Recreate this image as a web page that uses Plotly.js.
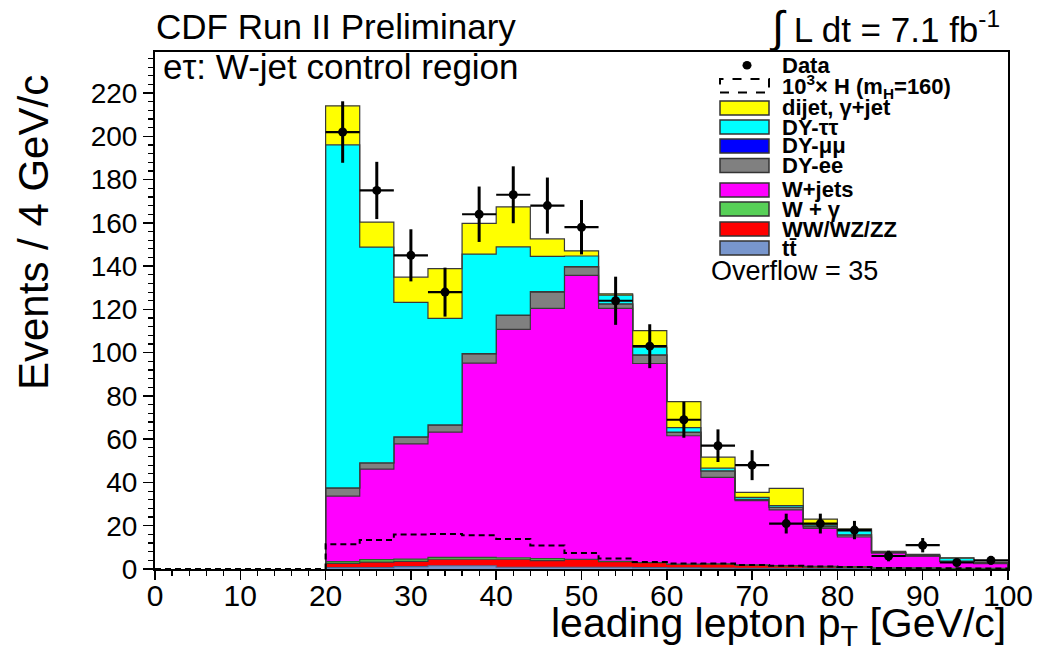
<!DOCTYPE html>
<html>
<head>
<meta charset="utf-8">
<script src="https://cdn.plot.ly/plotly-3.0.1.min.js"></script>
<style>
  html, body { margin: 0; padding: 0; background: #fff; }
  #plot { width: 1043px; height: 651px; }
</style>
</head>
<body>
<div id="plot"></div>
<script>
// Leading lepton pT, e-tau W-jet control region, 4 GeV bins (20-100 GeV/c)
const binLowEdges = [20, 24, 28, 32, 36, 40, 44, 48, 52, 56, 60, 64, 68, 72, 76, 80, 84, 88, 92, 96];
const binWidth = 4;

// Background expectations per bin (events / 4 GeV/c), stacked bottom to top
const ttbar    = [0.6, 0.6, 1.1, 1.5, 1.5, 0.8, 0.8, 0.8, 0.8, 0.6, 0.5, 0.4, 0.3, 0.3, 0.3, 0.2, 0.1, 0.1, 0.1, 0.1];
const diboson  = [2.0, 2.6, 2.4, 3.0, 3.0, 3.7, 3.1, 3.6, 2.6, 2.3, 1.7, 1.9, 1.5, 1.2, 0.8, 0.8, 0.3, 0.3, 0.1, 0.1];
const wGamma   = [0.8, 1.1, 1.1, 0.9, 0.9, 0.7, 0.9, 0.1, 0.1, 0.1, 0.1, 0.1, 0.1, 0.1, 0.1, 0.1, 0.1, 0.1, 0.1, 0.1];
const wJets    = [30.3, 41.9, 53.2, 57.9, 89.8, 105.6, 115.7, 131.2, 117.0, 92.0, 59.3, 40.0, 29.7, 25.7, 17.6, 13.7, 7.0, 5.5, 3.2, 2.2];
const dyEE     = [3.7, 2.8, 3.2, 3.2, 4.2, 6.4, 7.5, 4.0, 2.0, 3.9, 1.6, 2.9, 0.6, 1.2, 0.8, 1.0, 0.1, 0.1, 0.1, 0.1];
const dyMuMu   = [0.1, 0.1, 0.1, 0.1, 0.2, 0.2, 0.2, 0.1, 0.1, 0.1, 0.1, 0.1, 0.0, 0.0, 0.0, 0.0, 0.0, 0.0, 0.0, 0.0];
const dyTauTau = [158.6, 99.7, 62.2, 49.3, 46.0, 31.5, 16.3, 4.9, 4.0, 3.5, 2.1, 1.2, 0.9, 0.8, 0.7, 1.8, 0.3, 0.2, 1.4, 0.3];
const dijet    = [18.0, 11.6, 11.6, 23.0, 14.2, 18.5, 8.1, 2.4, 0.6, 7.7, 12.0, 5.1, 2.3, 8.0, 2.8, 1.0, 0.3, 0.5, 0.2, 0.2];

// Observed events per bin
const dataCounts = [202, 175, 145, 128, 164, 173, 168, 158, 124, 103, 69, 57, 48, 21, 21, 18, 6, 11, 3, 4];

// Higgs signal (mH = 160) scaled by 10^3, full 0-100 GeV/c range
const higgsEdges = [0, 4, 8, 12, 16, 20, 24, 28, 32, 36, 40, 44, 48, 52, 56, 60, 64, 68, 72, 76, 80, 84, 88, 92, 96];
const higgsX1000 = [0, 0, 0, 0, 0, 11.4, 13.4, 15.9, 16.2, 15.6, 13.9, 10.9, 7.4, 4.9, 3.2, 2.6, 2.5, 1.9, 1.5, 1.1, 0.9, 0.5, 0.4, 0.3, 0.2];

const overflowCount = 35;

const components = [
  { name: 'tt̄',            values: ttbar,    color: '#7896cd', line: '#4a5f88' },
  { name: 'WW/WZ/ZZ',       values: diboson,  color: '#ff0000', line: '#3a3a3a' },
  { name: 'W + γ',          values: wGamma,   color: '#57d057', line: '#2e5e2e' },
  { name: 'W+jets',         values: wJets,    color: '#ff00ff', line: '#3a3a3a' },
  { name: 'DY-ee',          values: dyEE,     color: '#808080', line: '#3a3a3a' },
  { name: 'DY-μμ',          values: dyMuMu,   color: '#0000ff', line: '#3a3a3a' },
  { name: 'DY-ττ',          values: dyTauTau, color: '#00ffff', line: '#3a3a3a' },
  { name: 'dijet, γ+jet',   values: dijet,    color: '#ffff00', line: '#3a3a3a' }
];

// Step outline of a histogram: closed at both ends down to zero
function stepPath(edges, vals, width) {
  const xs = [edges[0]], ys = [0];
  for (let i = 0; i < vals.length; i++) { xs.push(edges[i]); ys.push(vals[i]); }
  const last = edges[edges.length - 1] + width;
  xs.push(last); ys.push(vals[vals.length - 1]);
  xs.push(last); ys.push(0);
  return { x: xs, y: ys };
}

const traces = [];
let cumulative = binLowEdges.map(() => 0);
components.forEach((c, k) => {
  cumulative = cumulative.map((v, i) => v + c.values[i]);
  const p = stepPath(binLowEdges, cumulative, binWidth);
  traces.push({
    type: 'scatter', mode: 'lines', name: c.name,
    x: p.x, y: p.y,
    line: { shape: 'hv', color: c.line, width: 1.2 },
    fill: k === 0 ? 'tozeroy' : 'tonexty',
    fillcolor: c.color,
    hoverinfo: 'skip'
  });
});

// Signal histogram, dashed outline
const hp = stepPath(higgsEdges, higgsX1000, binWidth);
traces.push({
  type: 'scatter', mode: 'lines', name: '10³× H',
  x: hp.x, y: hp.y,
  line: { shape: 'hv', color: '#000', width: 2, dash: '6px,4px' },
  hoverinfo: 'skip'
});

// Data points with Poisson errors
traces.push({
  type: 'scatter', mode: 'markers', name: 'Data',
  x: binLowEdges.map(e => e + binWidth / 2),
  y: dataCounts,
  marker: { color: '#000', size: 9 },
  error_y: { type: 'data', array: dataCounts.map(n => Math.sqrt(n)), color: '#000', thickness: 3, width: 0 },
  error_x: { type: 'constant', value: binWidth / 2, color: '#000', thickness: 2.2, width: 0 }
});

// Pixel helpers for text / legend placement inside the 1043x651 canvas
const L = 155, R = 1008, T = 52, B = 569;
const px = x => (x - L) / (R - L);
const py = y => (B - y) / (B - T);

const FONT = 'Liberation Sans, Arial, Helvetica, sans-serif';
const annotations = [
  { text: 'CDF Run II Preliminary', x: px(154), y: py(27), xanchor: 'left', yanchor: 'middle',
    font: { size: 35, color: '#000', family: FONT } },
  { text: '<span style="font-size:44px">∫</span> L dt = 7.1 fb<sup>-1</sup>', x: px(1002), y: py(27),
    xanchor: 'right', yanchor: 'middle', font: { size: 35, color: '#000', family: FONT } },
  { text: 'eτ: W-jet control region', x: px(161), y: py(67), xanchor: 'left', yanchor: 'middle',
    font: { size: 35, color: '#000', family: FONT } },
  { text: 'leading lepton p<sub>T</sub> [GeV/c]', x: px(1008), y: py(626), xanchor: 'right', yanchor: 'middle',
    font: { size: 41, color: '#000', family: FONT } },
  { text: 'Events / 4 GeV/c', x: px(33), y: py(233), xanchor: 'center', yanchor: 'middle', textangle: -90,
    font: { size: 42, color: '#000', family: FONT } }
];
annotations.forEach(a => { a.xref = 'paper'; a.yref = 'paper'; a.showarrow = false; });

// Legend block
const legendRows = [
  { label: 'dijet, γ+jet', c: components[7], y: 108 },
  { label: 'DY-ττ',        c: components[6], y: 127 },
  { label: 'DY-μμ',        c: components[5], y: 146 },
  { label: 'DY-ee',        c: components[4], y: 165.5 },
  { label: 'W+jets',       c: components[3], y: 190 },
  { label: 'W + γ',        c: components[2], y: 209 },
  { label: 'WW/WZ/ZZ',     c: components[1], y: 229 },
  { label: 'tt̄',           c: components[0], y: 248 }
];
const shapes = [];
const boxX0 = 720, boxX1 = 769, textX = 780, boxH = 14;
const legFont = { size: 22, color: '#000', family: FONT, weight: 'bold' };

shapes.push({ type: 'circle', xref: 'paper', yref: 'paper',
  x0: px(742.5), x1: px(751.5), y0: py(69.5), y1: py(61), fillcolor: '#000', line: { width: 0 } });
annotations.push({ text: 'Data', x: px(textX), y: py(65), xref: 'paper', yref: 'paper', showarrow: false,
  xanchor: 'left', yanchor: 'middle', font: legFont });

shapes.push({ type: 'rect', xref: 'paper', yref: 'paper',
  x0: px(boxX0), x1: px(boxX1), y0: py(92.5), y1: py(79), fillcolor: '#fff',
  line: { color: '#000', width: 2, dash: 'dash' } });
annotations.push({ text: '10<sup>3</sup>× H (m<sub>H</sub>=160)', x: px(textX), y: py(86), xref: 'paper', yref: 'paper',
  showarrow: false, xanchor: 'left', yanchor: 'middle', font: legFont });

legendRows.forEach(r => {
  shapes.push({ type: 'rect', xref: 'paper', yref: 'paper',
    x0: px(boxX0), x1: px(boxX1), y0: py(r.y + boxH / 2), y1: py(r.y - boxH / 2),
    fillcolor: r.c.color, line: { color: '#333', width: 1.5 } });
  annotations.push({ text: r.label, x: px(textX), y: py(r.y), xref: 'paper', yref: 'paper', showarrow: false,
    xanchor: 'left', yanchor: 'middle', font: legFont });
});
annotations.push({ text: 'Overflow = ' + overflowCount, x: px(709), y: py(271), xref: 'paper', yref: 'paper',
  showarrow: false, xanchor: 'left', yanchor: 'middle', font: { size: 27, color: '#000', family: FONT } });

const layout = {
  width: 1043, height: 651,
  margin: { l: L, r: 1043 - R, t: T, b: 651 - B, pad: 0 },
  paper_bgcolor: '#fff', plot_bgcolor: '#fff',
  showlegend: false,
  font: { family: FONT, color: '#000' },
  xaxis: {
    range: [0, 100], dtick: 10, tick0: 0, showgrid: false, zeroline: false,
    showline: true, mirror: true, linecolor: '#000', linewidth: 2,
    ticks: 'outside', ticklen: 9, tickwidth: 1.5, tickcolor: '#000', ticklabelstandoff: -10,
    minor: { dtick: 2, ticks: 'outside', ticklen: 5, tickwidth: 1.2, tickcolor: '#000', showgrid: false },
    tickfont: { size: 30, family: FONT, color: '#000' }
  },
  yaxis: {
    range: [0, 239], dtick: 20, tick0: 0, showgrid: false, zeroline: false,
    showline: true, mirror: true, linecolor: '#000', linewidth: 2,
    ticks: 'outside', ticklen: 10, tickwidth: 1.5, tickcolor: '#000',
    minor: { dtick: 4, ticks: 'outside', ticklen: 5, tickwidth: 1.2, tickcolor: '#000', showgrid: false },
    tickfont: { size: 28, family: FONT, color: '#000' }
  },
  annotations: annotations,
  shapes: shapes
};

Plotly.newPlot('plot', traces, layout, { displayModeBar: false, staticPlot: true });
</script>
</body>
</html>
